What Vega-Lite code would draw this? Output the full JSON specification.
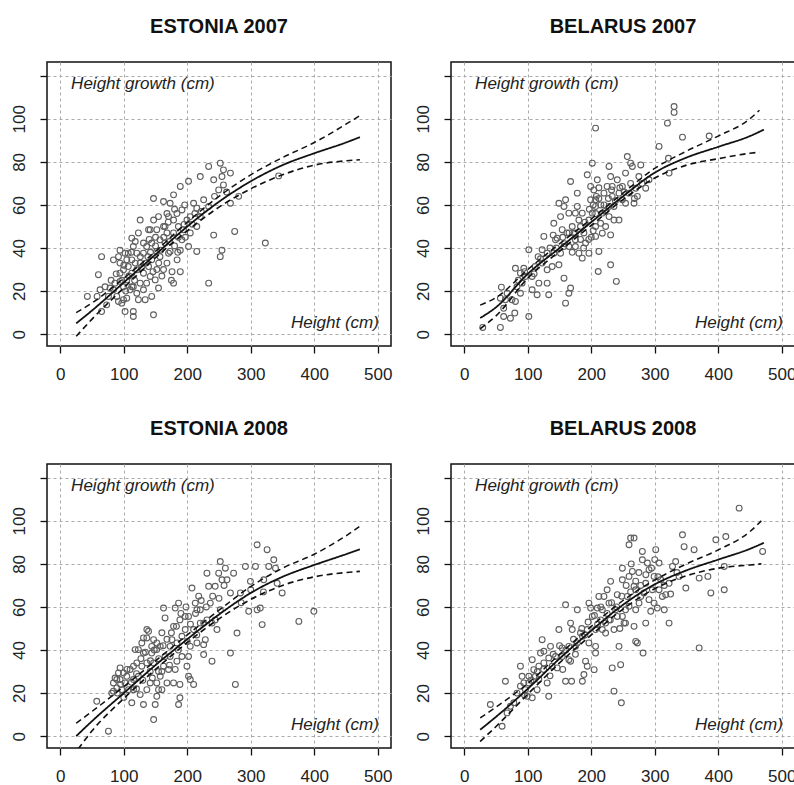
{
 "$schema": "https://vega.github.io/schema/vega-lite/v6.json",
 "background": "white",
 "padding": {"left": 9, "top": 16, "right": 0, "bottom": 0},
 "config": {
  "font": "Liberation Sans",
  "view": {"stroke": "#111111", "strokeWidth": 1.5}
 },
 "data": {"values": [
{"p":"ESTONIA 2007","k":"obs","h":42.6,"g":17.5},{"p":"ESTONIA 2007","k":"obs","h":60,"g":27.6},{"p":"ESTONIA 2007","k":"obs","h":65,"g":36},{"p":"ESTONIA 2007","k":"obs","h":62.6,"g":20.6},{"p":"ESTONIA 2007","k":"obs","h":65,"g":10.5},{"p":"ESTONIA 2007","k":"obs","h":73,"g":13.6},{"p":"ESTONIA 2007","k":"obs","h":58,"g":17.5},{"p":"ESTONIA 2007","k":"obs","h":83.7,"g":20.6},{"p":"ESTONIA 2007","k":"obs","h":83.7,"g":34.5},{"p":"ESTONIA 2007","k":"obs","h":91.6,"g":36},{"p":"ESTONIA 2007","k":"obs","h":94,"g":24.5},{"p":"ESTONIA 2007","k":"obs","h":99.5,"g":16},{"p":"ESTONIA 2007","k":"obs","h":102,"g":10.5},{"p":"ESTONIA 2007","k":"obs","h":115,"g":10.5},{"p":"ESTONIA 2007","k":"obs","h":115,"g":8.2},{"p":"ESTONIA 2007","k":"obs","h":112.6,"g":44.6},{"p":"ESTONIA 2007","k":"obs","h":125.8,"g":53},{"p":"ESTONIA 2007","k":"obs","h":146.8,"g":63},{"p":"ESTONIA 2007","k":"obs","h":146.8,"g":9},{"p":"ESTONIA 2007","k":"obs","h":144,"g":17.5},{"p":"ESTONIA 2007","k":"obs","h":154.7,"g":21.4},{"p":"ESTONIA 2007","k":"obs","h":162.6,"g":61.6},{"p":"ESTONIA 2007","k":"obs","h":178.4,"g":64.7},{"p":"ESTONIA 2007","k":"obs","h":170.5,"g":54.6},{"p":"ESTONIA 2007","k":"obs","h":189,"g":68.6},{"p":"ESTONIA 2007","k":"obs","h":202,"g":71},{"p":"ESTONIA 2007","k":"obs","h":220.5,"g":73.2},{"p":"ESTONIA 2007","k":"obs","h":233.7,"g":77.9},{"p":"ESTONIA 2007","k":"obs","h":241.6,"g":71.7},{"p":"ESTONIA 2007","k":"obs","h":252,"g":79.4},{"p":"ESTONIA 2007","k":"obs","h":257,"g":76.3},{"p":"ESTONIA 2007","k":"obs","h":268,"g":74.8},{"p":"ESTONIA 2007","k":"obs","h":257,"g":69.3},{"p":"ESTONIA 2007","k":"obs","h":249.5,"g":67},{"p":"ESTONIA 2007","k":"obs","h":254.7,"g":73.2},{"p":"ESTONIA 2007","k":"obs","h":225.8,"g":62.4},{"p":"ESTONIA 2007","k":"obs","h":210,"g":60.8},{"p":"ESTONIA 2007","k":"obs","h":215,"g":58.5},{"p":"ESTONIA 2007","k":"obs","h":204.7,"g":54.6},{"p":"ESTONIA 2007","k":"obs","h":268,"g":60.8},{"p":"ESTONIA 2007","k":"obs","h":281,"g":64},{"p":"ESTONIA 2007","k":"obs","h":274.7,"g":47.7},{"p":"ESTONIA 2007","k":"obs","h":241.6,"g":46},{"p":"ESTONIA 2007","k":"obs","h":254.7,"g":39},{"p":"ESTONIA 2007","k":"obs","h":252,"g":36},{"p":"ESTONIA 2007","k":"obs","h":215,"g":38.4},{"p":"ESTONIA 2007","k":"obs","h":233.7,"g":23.7},{"p":"ESTONIA 2007","k":"obs","h":323,"g":42.3},{"p":"ESTONIA 2007","k":"obs","h":344,"g":73.5},{"p":"ESTONIA 2007","k":"obs","h":173,"g":38.4},{"p":"ESTONIA 2007","k":"obs","h":175,"g":25},{"p":"ESTONIA 2007","k":"obs","h":178.4,"g":23.7},{"p":"ESTONIA 2007","k":"obs","h":189,"g":29},{"p":"ESTONIA 2007","k":"obs","h":184,"g":34.5},{"p":"ESTONIA 2007","k":"obs","h":189,"g":39},{"p":"ESTONIA 2007","k":"obs","h":191.6,"g":43.8},{"p":"ESTONIA 2007","k":"obs","h":194,"g":48.5},{"p":"ESTONIA 2007","k":"obs","h":191.6,"g":57.7},{"p":"ESTONIA 2007","k":"obs","h":183.7,"g":56},{"p":"ESTONIA 2007","k":"obs","h":173,"g":60.8},{"p":"ESTONIA 2007","k":"obs","h":199.5,"g":53},{"p":"ESTONIA 2007","k":"obs","h":204.7,"g":47},{"p":"ESTONIA 2007","k":"obs","h":202,"g":40.7},{"p":"ESTONIA 2007","k":"obs","h":157,"g":36},{"p":"ESTONIA 2007","k":"obs","h":152,"g":30},{"p":"ESTONIA 2007","k":"obs","h":162.6,"g":30},{"p":"ESTONIA 2007","k":"obs","h":168,"g":33},{"p":"ESTONIA 2007","k":"obs","h":165,"g":42.3},{"p":"ESTONIA 2007","k":"obs","h":168,"g":47},{"p":"ESTONIA 2007","k":"obs","h":157,"g":43.8},{"p":"ESTONIA 2007","k":"obs","h":152,"g":48.5},{"p":"ESTONIA 2007","k":"obs","h":147,"g":53},{"p":"ESTONIA 2007","k":"obs","h":141.6,"g":48.5},{"p":"ESTONIA 2007","k":"obs","h":136,"g":40.7},{"p":"ESTONIA 2007","k":"obs","h":131,"g":37.6},{"p":"ESTONIA 2007","k":"obs","h":125.8,"g":33},{"p":"ESTONIA 2007","k":"obs","h":120.5,"g":37.6},{"p":"ESTONIA 2007","k":"obs","h":115,"g":40.7},{"p":"ESTONIA 2007","k":"obs","h":107,"g":37.6},{"p":"ESTONIA 2007","k":"obs","h":107,"g":31.4},{"p":"ESTONIA 2007","k":"obs","h":112.6,"g":28.3},{"p":"ESTONIA 2007","k":"obs","h":120.5,"g":29.9},{"p":"ESTONIA 2007","k":"obs","h":131,"g":28.3},{"p":"ESTONIA 2007","k":"obs","h":136,"g":23.7},{"p":"ESTONIA 2007","k":"obs","h":131,"g":20.6},{"p":"ESTONIA 2007","k":"obs","h":133.7,"g":16},{"p":"ESTONIA 2007","k":"obs","h":120.5,"g":19},{"p":"ESTONIA 2007","k":"obs","h":115,"g":22},{"p":"ESTONIA 2007","k":"obs","h":104.7,"g":25.2},{"p":"ESTONIA 2007","k":"obs","h":99.5,"g":29.9},{"p":"ESTONIA 2007","k":"obs","h":94,"g":33},{"p":"ESTONIA 2007","k":"obs","h":94,"g":28.3},{"p":"ESTONIA 2007","k":"obs","h":89,"g":17.5},{"p":"ESTONIA 2007","k":"obs","h":96.8,"g":14.4},{"p":"ESTONIA 2007","k":"obs","h":91.6,"g":15.2},{"p":"ESTONIA 2007","k":"obs","h":104.7,"g":16.7},{"p":"ESTONIA 2007","k":"obs","h":110,"g":20.6},{"p":"ESTONIA 2007","k":"obs","h":139,"g":31.4},{"p":"ESTONIA 2007","k":"obs","h":144,"g":34.5},{"p":"ESTONIA 2007","k":"obs","h":141.6,"g":26.8},{"p":"ESTONIA 2007","k":"obs","h":149.5,"g":25.2},{"p":"ESTONIA 2007","k":"obs","h":123,"g":47},{"p":"ESTONIA 2007","k":"obs","h":131,"g":42.3},{"p":"ESTONIA 2007","k":"obs","h":139,"g":48.5},{"p":"ESTONIA 2007","k":"obs","h":220.5,"g":54.6},{"p":"ESTONIA 2007","k":"obs","h":233.7,"g":59.3},{"p":"ESTONIA 2007","k":"obs","h":215,"g":50},{"p":"ESTONIA 2007","k":"obs","h":178.4,"g":47},{"p":"ESTONIA 2007","k":"obs","h":178.4,"g":53},{"p":"ESTONIA 2007","k":"obs","h":168,"g":56},{"p":"ESTONIA 2007","k":"obs","h":186,"g":50},{"p":"ESTONIA 2007","k":"obs","h":170.5,"g":37.6},{"p":"ESTONIA 2007","k":"obs","h":112.6,"g":34.5},{"p":"ESTONIA 2007","k":"obs","h":102,"g":37.6},{"p":"ESTONIA 2007","k":"obs","h":125.8,"g":23.7},{"p":"ESTONIA 2007","k":"obs","h":123,"g":16},{"p":"ESTONIA 2007","k":"obs","h":152,"g":38.4},{"p":"ESTONIA 2007","k":"obs","h":144,"g":42.3},{"p":"ESTONIA 2007","k":"obs","h":162.6,"g":50},{"p":"ESTONIA 2007","k":"obs","h":154.7,"g":54.6},{"p":"ESTONIA 2007","k":"obs","h":104.7,"g":34.5},{"p":"ESTONIA 2007","k":"obs","h":99.5,"g":22},{"p":"ESTONIA 2007","k":"obs","h":86,"g":23.7},{"p":"ESTONIA 2007","k":"obs","h":75.8,"g":17.5},{"p":"ESTONIA 2007","k":"obs","h":78.4,"g":21.4},{"p":"ESTONIA 2007","k":"obs","h":70.5,"g":22},{"p":"ESTONIA 2007","k":"obs","h":112.6,"g":22},{"p":"ESTONIA 2007","k":"obs","h":94,"g":39},
{"p":"ESTONIA 2007","k":"obs","h":100,"g":32},{"p":"ESTONIA 2007","k":"obs","h":108,"g":27},{"p":"ESTONIA 2007","k":"obs","h":118,"g":33},{"p":"ESTONIA 2007","k":"obs","h":126,"g":36},{"p":"ESTONIA 2007","k":"obs","h":135,"g":33},{"p":"ESTONIA 2007","k":"obs","h":142,"g":38},{"p":"ESTONIA 2007","k":"obs","h":150,"g":41},{"p":"ESTONIA 2007","k":"obs","h":158,"g":39},{"p":"ESTONIA 2007","k":"obs","h":163,"g":45},{"p":"ESTONIA 2007","k":"obs","h":172,"g":43},{"p":"ESTONIA 2007","k":"obs","h":180,"g":41},{"p":"ESTONIA 2007","k":"obs","h":186,"g":45},{"p":"ESTONIA 2007","k":"obs","h":195,"g":51},{"p":"ESTONIA 2007","k":"obs","h":97,"g":25},{"p":"ESTONIA 2007","k":"obs","h":103,"g":20},{"p":"ESTONIA 2007","k":"obs","h":117,"g":25},{"p":"ESTONIA 2007","k":"obs","h":128,"g":31},{"p":"ESTONIA 2007","k":"obs","h":138,"g":36},{"p":"ESTONIA 2007","k":"obs","h":146,"g":29},{"p":"ESTONIA 2007","k":"obs","h":155,"g":33},{"p":"ESTONIA 2007","k":"obs","h":160,"g":27},{"p":"ESTONIA 2007","k":"obs","h":176,"g":29},{"p":"ESTONIA 2007","k":"obs","h":185,"g":38},{"p":"ESTONIA 2007","k":"obs","h":197,"g":45},{"p":"ESTONIA 2007","k":"obs","h":208,"g":51},{"p":"ESTONIA 2007","k":"obs","h":212,"g":56},{"p":"ESTONIA 2007","k":"obs","h":222,"g":57},{"p":"ESTONIA 2007","k":"obs","h":243,"g":64},{"p":"ESTONIA 2007","k":"obs","h":262,"g":66},{"p":"ESTONIA 2007","k":"obs","h":196,"g":60},{"p":"ESTONIA 2007","k":"obs","h":180,"g":58},{"p":"ESTONIA 2007","k":"obs","h":165,"g":50},{"p":"ESTONIA 2007","k":"obs","h":140,"g":44},{"p":"ESTONIA 2007","k":"obs","h":112,"g":38},{"p":"ESTONIA 2007","k":"obs","h":88,"g":28},{"p":"ESTONIA 2007","k":"obs","h":80,"g":25},{"p":"ESTONIA 2007","k":"obs","h":118,"g":43},{"p":"ESTONIA 2007","k":"obs","h":150,"g":45},{"p":"ESTONIA 2007","k":"obs","h":170,"g":52},
{"p":"BELARUS 2007","k":"obs","h":29,"g":3.1},{"p":"BELARUS 2007","k":"obs","h":56.8,"g":3.1},{"p":"BELARUS 2007","k":"obs","h":58.4,"g":21.8},{"p":"BELARUS 2007","k":"obs","h":64.7,"g":16},{"p":"BELARUS 2007","k":"obs","h":62,"g":12},{"p":"BELARUS 2007","k":"obs","h":56.8,"g":16.7},{"p":"BELARUS 2007","k":"obs","h":72.6,"g":7.4},{"p":"BELARUS 2007","k":"obs","h":62,"g":8.2},{"p":"BELARUS 2007","k":"obs","h":79.5,"g":9.8},{"p":"BELARUS 2007","k":"obs","h":80.5,"g":15.2},{"p":"BELARUS 2007","k":"obs","h":80.5,"g":30.6},{"p":"BELARUS 2007","k":"obs","h":88.4,"g":19},{"p":"BELARUS 2007","k":"obs","h":93.7,"g":30.6},{"p":"BELARUS 2007","k":"obs","h":101.6,"g":8.2},{"p":"BELARUS 2007","k":"obs","h":101.6,"g":39.2},{"p":"BELARUS 2007","k":"obs","h":106.8,"g":20.6},{"p":"BELARUS 2007","k":"obs","h":117.4,"g":23.7},{"p":"BELARUS 2007","k":"obs","h":114.7,"g":18.3},{"p":"BELARUS 2007","k":"obs","h":116.3,"g":36},{"p":"BELARUS 2007","k":"obs","h":122.6,"g":39.2},{"p":"BELARUS 2007","k":"obs","h":125.3,"g":45.4},{"p":"BELARUS 2007","k":"obs","h":130.5,"g":23.7},{"p":"BELARUS 2007","k":"obs","h":133,"g":18.3},{"p":"BELARUS 2007","k":"obs","h":130.5,"g":29.9},{"p":"BELARUS 2007","k":"obs","h":141,"g":51.5},{"p":"BELARUS 2007","k":"obs","h":146.3,"g":44.6},{"p":"BELARUS 2007","k":"obs","h":149,"g":32.2},{"p":"BELARUS 2007","k":"obs","h":157,"g":26},{"p":"BELARUS 2007","k":"obs","h":159.5,"g":14.4},{"p":"BELARUS 2007","k":"obs","h":164.7,"g":19},{"p":"BELARUS 2007","k":"obs","h":167.4,"g":21.4},{"p":"BELARUS 2007","k":"obs","h":149,"g":60.8},{"p":"BELARUS 2007","k":"obs","h":159.5,"g":62.4},{"p":"BELARUS 2007","k":"obs","h":167.4,"g":70.9},{"p":"BELARUS 2007","k":"obs","h":164.7,"g":56.2},{"p":"BELARUS 2007","k":"obs","h":175,"g":56.2},{"p":"BELARUS 2007","k":"obs","h":178,"g":65.5},{"p":"BELARUS 2007","k":"obs","h":178,"g":59.3},{"p":"BELARUS 2007","k":"obs","h":172.6,"g":46.9},{"p":"BELARUS 2007","k":"obs","h":175,"g":43.8},{"p":"BELARUS 2007","k":"obs","h":180.5,"g":37.6},{"p":"BELARUS 2007","k":"obs","h":185.8,"g":35.3},{"p":"BELARUS 2007","k":"obs","h":191,"g":42.3},{"p":"BELARUS 2007","k":"obs","h":193.7,"g":74},{"p":"BELARUS 2007","k":"obs","h":199,"g":68.6},{"p":"BELARUS 2007","k":"obs","h":201.6,"g":79.4},{"p":"BELARUS 2007","k":"obs","h":206.8,"g":95.7},{"p":"BELARUS 2007","k":"obs","h":209.5,"g":71.7},{"p":"BELARUS 2007","k":"obs","h":206.8,"g":62.4},{"p":"BELARUS 2007","k":"obs","h":206.8,"g":59.3},{"p":"BELARUS 2007","k":"obs","h":201.6,"g":56.2},{"p":"BELARUS 2007","k":"obs","h":206.8,"g":45.4},{"p":"BELARUS 2007","k":"obs","h":212,"g":38.4},{"p":"BELARUS 2007","k":"obs","h":211,"g":29.1},{"p":"BELARUS 2007","k":"obs","h":217.4,"g":56.2},{"p":"BELARUS 2007","k":"obs","h":220,"g":65.5},{"p":"BELARUS 2007","k":"obs","h":225,"g":68.6},{"p":"BELARUS 2007","k":"obs","h":228,"g":77.9},{"p":"BELARUS 2007","k":"obs","h":230.5,"g":73.2},{"p":"BELARUS 2007","k":"obs","h":233,"g":64},{"p":"BELARUS 2007","k":"obs","h":235.8,"g":59.3},{"p":"BELARUS 2007","k":"obs","h":230.5,"g":46.1},{"p":"BELARUS 2007","k":"obs","h":230.5,"g":32.2},{"p":"BELARUS 2007","k":"obs","h":239.5,"g":24.5},{"p":"BELARUS 2007","k":"obs","h":241,"g":71.7},{"p":"BELARUS 2007","k":"obs","h":249,"g":68.6},{"p":"BELARUS 2007","k":"obs","h":254,"g":74.8},{"p":"BELARUS 2007","k":"obs","h":256.8,"g":82.5},{"p":"BELARUS 2007","k":"obs","h":262,"g":79.4},{"p":"BELARUS 2007","k":"obs","h":259.5,"g":65.5},{"p":"BELARUS 2007","k":"obs","h":267.4,"g":60.8},{"p":"BELARUS 2007","k":"obs","h":270,"g":67.8},{"p":"BELARUS 2007","k":"obs","h":264.7,"g":77.9},{"p":"BELARUS 2007","k":"obs","h":278,"g":78.6},{"p":"BELARUS 2007","k":"obs","h":285.8,"g":67.8},{"p":"BELARUS 2007","k":"obs","h":306.8,"g":87.2},{"p":"BELARUS 2007","k":"obs","h":320,"g":98},{"p":"BELARUS 2007","k":"obs","h":330.5,"g":105.7},{"p":"BELARUS 2007","k":"obs","h":330.5,"g":103},{"p":"BELARUS 2007","k":"obs","h":343.7,"g":91.5},{"p":"BELARUS 2007","k":"obs","h":321.6,"g":81.7},{"p":"BELARUS 2007","k":"obs","h":322.6,"g":74.8},{"p":"BELARUS 2007","k":"obs","h":385.8,"g":92},{"p":"BELARUS 2007","k":"obs","h":249,"g":62.4},{"p":"BELARUS 2007","k":"obs","h":243.7,"g":53},{"p":"BELARUS 2007","k":"obs","h":222.6,"g":50},{"p":"BELARUS 2007","k":"obs","h":214.7,"g":51.5},{"p":"BELARUS 2007","k":"obs","h":196.3,"g":53},{"p":"BELARUS 2007","k":"obs","h":188.4,"g":47},{"p":"BELARUS 2007","k":"obs","h":185.8,"g":56.2},{"p":"BELARUS 2007","k":"obs","h":220,"g":60},{"p":"BELARUS 2007","k":"obs","h":228,"g":59.3},{"p":"BELARUS 2007","k":"obs","h":199,"g":62.4},{"p":"BELARUS 2007","k":"obs","h":170,"g":50},{"p":"BELARUS 2007","k":"obs","h":161.6,"g":47},{"p":"BELARUS 2007","k":"obs","h":156.8,"g":40.7},{"p":"BELARUS 2007","k":"obs","h":164.7,"g":40.7},{"p":"BELARUS 2007","k":"obs","h":151.6,"g":37.6},{"p":"BELARUS 2007","k":"obs","h":141,"g":37.6},{"p":"BELARUS 2007","k":"obs","h":143.7,"g":43.8},{"p":"BELARUS 2007","k":"obs","h":138.4,"g":31.4},{"p":"BELARUS 2007","k":"obs","h":122.6,"g":33},{"p":"BELARUS 2007","k":"obs","h":111.6,"g":31.4},{"p":"BELARUS 2007","k":"obs","h":106.8,"g":26.8},{"p":"BELARUS 2007","k":"obs","h":96.3,"g":26.8},{"p":"BELARUS 2007","k":"obs","h":91,"g":23.7},{"p":"BELARUS 2007","k":"obs","h":83,"g":22},{"p":"BELARUS 2007","k":"obs","h":75,"g":16},{"p":"BELARUS 2007","k":"obs","h":67.4,"g":19},{"p":"BELARUS 2007","k":"obs","h":88.4,"g":28.3},{"p":"BELARUS 2007","k":"obs","h":196.3,"g":37.6},{"p":"BELARUS 2007","k":"obs","h":206.8,"g":50},{"p":"BELARUS 2007","k":"obs","h":217.4,"g":46.9},{"p":"BELARUS 2007","k":"obs","h":228,"g":54.6},{"p":"BELARUS 2007","k":"obs","h":235.8,"g":53},{"p":"BELARUS 2007","k":"obs","h":233,"g":68.6},{"p":"BELARUS 2007","k":"obs","h":243.7,"g":65.5},{"p":"BELARUS 2007","k":"obs","h":212,"g":63},{"p":"BELARUS 2007","k":"obs","h":204,"g":67},{"p":"BELARUS 2007","k":"obs","h":183,"g":50},{"p":"BELARUS 2007","k":"obs","h":180.5,"g":53},{"p":"BELARUS 2007","k":"obs","h":175,"g":40.7},{"p":"BELARUS 2007","k":"obs","h":272.6,"g":64},{"p":"BELARUS 2007","k":"obs","h":291,"g":71.7},{"p":"BELARUS 2007","k":"obs","h":275,"g":73.2},{"p":"BELARUS 2007","k":"obs","h":254,"g":60.8},{"p":"BELARUS 2007","k":"obs","h":157,"g":59.3},{"p":"BELARUS 2007","k":"obs","h":151.6,"g":54.6},{"p":"BELARUS 2007","k":"obs","h":130.5,"g":37.6},{"p":"BELARUS 2007","k":"obs","h":154.2,"g":48.5},
{"p":"BELARUS 2007","k":"obs","h":85,"g":25},{"p":"BELARUS 2007","k":"obs","h":95,"g":29},{"p":"BELARUS 2007","k":"obs","h":110,"g":28},{"p":"BELARUS 2007","k":"obs","h":120,"g":35},{"p":"BELARUS 2007","k":"obs","h":135,"g":40},{"p":"BELARUS 2007","k":"obs","h":145,"g":40},{"p":"BELARUS 2007","k":"obs","h":155,"g":45},{"p":"BELARUS 2007","k":"obs","h":165,"g":47},{"p":"BELARUS 2007","k":"obs","h":175,"g":47},{"p":"BELARUS 2007","k":"obs","h":183,"g":44},{"p":"BELARUS 2007","k":"obs","h":190,"g":52},{"p":"BELARUS 2007","k":"obs","h":197,"g":58},{"p":"BELARUS 2007","k":"obs","h":203,"g":60},{"p":"BELARUS 2007","k":"obs","h":208,"g":64},{"p":"BELARUS 2007","k":"obs","h":215,"g":60},{"p":"BELARUS 2007","k":"obs","h":222,"g":57},{"p":"BELARUS 2007","k":"obs","h":227,"g":63},{"p":"BELARUS 2007","k":"obs","h":238,"g":62},{"p":"BELARUS 2007","k":"obs","h":245,"g":68},{"p":"BELARUS 2007","k":"obs","h":252,"g":66},{"p":"BELARUS 2007","k":"obs","h":262,"g":70},{"p":"BELARUS 2007","k":"obs","h":207,"g":56},{"p":"BELARUS 2007","k":"obs","h":200,"g":45},{"p":"BELARUS 2007","k":"obs","h":188,"g":40},{"p":"BELARUS 2007","k":"obs","h":170,"g":38},{"p":"BELARUS 2007","k":"obs","h":158,"g":42},{"p":"BELARUS 2007","k":"obs","h":140,"g":46},{"p":"BELARUS 2007","k":"obs","h":212,"g":68},{"p":"BELARUS 2007","k":"obs","h":232,"g":67},{"p":"BELARUS 2007","k":"obs","h":268,"g":63},{"p":"BELARUS 2007","k":"obs","h":280,"g":70},{"p":"BELARUS 2007","k":"obs","h":203,"g":48},{"p":"BELARUS 2007","k":"obs","h":196,"g":44},
{"p":"ESTONIA 2008","k":"obs","h":57.4,"g":16.2},{"p":"ESTONIA 2008","k":"obs","h":75.8,"g":2.3},{"p":"ESTONIA 2008","k":"obs","h":81,"g":20},{"p":"ESTONIA 2008","k":"obs","h":83.7,"g":24.7},{"p":"ESTONIA 2008","k":"obs","h":86.3,"g":27},{"p":"ESTONIA 2008","k":"obs","h":91.6,"g":29.4},{"p":"ESTONIA 2008","k":"obs","h":94.2,"g":31.7},{"p":"ESTONIA 2008","k":"obs","h":89,"g":22.4},{"p":"ESTONIA 2008","k":"obs","h":96.8,"g":21.6},{"p":"ESTONIA 2008","k":"obs","h":102,"g":24.7},{"p":"ESTONIA 2008","k":"obs","h":99.5,"g":29.4},{"p":"ESTONIA 2008","k":"obs","h":104.7,"g":27.8},{"p":"ESTONIA 2008","k":"obs","h":107.4,"g":21.6},{"p":"ESTONIA 2008","k":"obs","h":112.6,"g":15.5},{"p":"ESTONIA 2008","k":"obs","h":115.3,"g":21.6},{"p":"ESTONIA 2008","k":"obs","h":115.3,"g":26.3},{"p":"ESTONIA 2008","k":"obs","h":120.5,"g":34},{"p":"ESTONIA 2008","k":"obs","h":123,"g":40.2},{"p":"ESTONIA 2008","k":"obs","h":128.4,"g":43.3},{"p":"ESTONIA 2008","k":"obs","h":131,"g":38.6},{"p":"ESTONIA 2008","k":"obs","h":131,"g":14.7},{"p":"ESTONIA 2008","k":"obs","h":125.8,"g":19.3},{"p":"ESTONIA 2008","k":"obs","h":136.3,"g":21.6},{"p":"ESTONIA 2008","k":"obs","h":139,"g":48.7},{"p":"ESTONIA 2008","k":"obs","h":136.3,"g":45.6},{"p":"ESTONIA 2008","k":"obs","h":144,"g":38.6},{"p":"ESTONIA 2008","k":"obs","h":147,"g":34},{"p":"ESTONIA 2008","k":"obs","h":147,"g":7.7},{"p":"ESTONIA 2008","k":"obs","h":149.5,"g":14.7},{"p":"ESTONIA 2008","k":"obs","h":152,"g":18.5},{"p":"ESTONIA 2008","k":"obs","h":154.7,"g":21.6},{"p":"ESTONIA 2008","k":"obs","h":157.4,"g":27.8},{"p":"ESTONIA 2008","k":"obs","h":160,"g":48},{"p":"ESTONIA 2008","k":"obs","h":162.6,"g":59.5},{"p":"ESTONIA 2008","k":"obs","h":165,"g":54.9},{"p":"ESTONIA 2008","k":"obs","h":168,"g":24.7},{"p":"ESTONIA 2008","k":"obs","h":170.5,"g":31},{"p":"ESTONIA 2008","k":"obs","h":173,"g":41.7},{"p":"ESTONIA 2008","k":"obs","h":175.8,"g":44.8},{"p":"ESTONIA 2008","k":"obs","h":178.4,"g":51},{"p":"ESTONIA 2008","k":"obs","h":181,"g":59.5},{"p":"ESTONIA 2008","k":"obs","h":186.3,"g":61.8},{"p":"ESTONIA 2008","k":"obs","h":188.4,"g":54},{"p":"ESTONIA 2008","k":"obs","h":186.3,"g":14.7},{"p":"ESTONIA 2008","k":"obs","h":188.4,"g":17.8},{"p":"ESTONIA 2008","k":"obs","h":188.4,"g":24},{"p":"ESTONIA 2008","k":"obs","h":183.7,"g":34.8},{"p":"ESTONIA 2008","k":"obs","h":196.8,"g":55.6},{"p":"ESTONIA 2008","k":"obs","h":199.5,"g":32.5},{"p":"ESTONIA 2008","k":"obs","h":202,"g":27.8},{"p":"ESTONIA 2008","k":"obs","h":204.7,"g":26.3},{"p":"ESTONIA 2008","k":"obs","h":210,"g":24},{"p":"ESTONIA 2008","k":"obs","h":202,"g":37},{"p":"ESTONIA 2008","k":"obs","h":204.7,"g":41.7},{"p":"ESTONIA 2008","k":"obs","h":210,"g":49.5},{"p":"ESTONIA 2008","k":"obs","h":207.4,"g":68.8},{"p":"ESTONIA 2008","k":"obs","h":212.6,"g":61.8},{"p":"ESTONIA 2008","k":"obs","h":218,"g":65},{"p":"ESTONIA 2008","k":"obs","h":220.5,"g":58.7},{"p":"ESTONIA 2008","k":"obs","h":225.8,"g":42.5},{"p":"ESTONIA 2008","k":"obs","h":225.8,"g":37.9},{"p":"ESTONIA 2008","k":"obs","h":228.4,"g":44.8},{"p":"ESTONIA 2008","k":"obs","h":233.7,"g":69.6},{"p":"ESTONIA 2008","k":"obs","h":236.3,"g":61.8},{"p":"ESTONIA 2008","k":"obs","h":239,"g":52.5},{"p":"ESTONIA 2008","k":"obs","h":239,"g":34.8},{"p":"ESTONIA 2008","k":"obs","h":244,"g":69.6},{"p":"ESTONIA 2008","k":"obs","h":246.8,"g":49.5},{"p":"ESTONIA 2008","k":"obs","h":252,"g":81.1},{"p":"ESTONIA 2008","k":"obs","h":249.5,"g":75.7},{"p":"ESTONIA 2008","k":"obs","h":252,"g":58.7},{"p":"ESTONIA 2008","k":"obs","h":254.7,"g":72.6},{"p":"ESTONIA 2008","k":"obs","h":260,"g":78},{"p":"ESTONIA 2008","k":"obs","h":262.6,"g":72.6},{"p":"ESTONIA 2008","k":"obs","h":268,"g":66.5},{"p":"ESTONIA 2008","k":"obs","h":268,"g":38.6},{"p":"ESTONIA 2008","k":"obs","h":273,"g":75.7},{"p":"ESTONIA 2008","k":"obs","h":275.8,"g":24},{"p":"ESTONIA 2008","k":"obs","h":278.4,"g":47.9},{"p":"ESTONIA 2008","k":"obs","h":283.7,"g":66.5},{"p":"ESTONIA 2008","k":"obs","h":291.6,"g":78.8},{"p":"ESTONIA 2008","k":"obs","h":296.8,"g":58},{"p":"ESTONIA 2008","k":"obs","h":299.5,"g":71.9},{"p":"ESTONIA 2008","k":"obs","h":307.4,"g":78.8},{"p":"ESTONIA 2008","k":"obs","h":310,"g":88.9},{"p":"ESTONIA 2008","k":"obs","h":310,"g":58.7},{"p":"ESTONIA 2008","k":"obs","h":315,"g":59.5},{"p":"ESTONIA 2008","k":"obs","h":318,"g":51.8},{"p":"ESTONIA 2008","k":"obs","h":320.5,"g":72.6},{"p":"ESTONIA 2008","k":"obs","h":325.8,"g":86.6},{"p":"ESTONIA 2008","k":"obs","h":328.4,"g":78.8},{"p":"ESTONIA 2008","k":"obs","h":336.3,"g":81.9},{"p":"ESTONIA 2008","k":"obs","h":339,"g":78},{"p":"ESTONIA 2008","k":"obs","h":341.6,"g":71},{"p":"ESTONIA 2008","k":"obs","h":349.5,"g":66.5},{"p":"ESTONIA 2008","k":"obs","h":375.8,"g":53.3},{"p":"ESTONIA 2008","k":"obs","h":399.5,"g":58},{"p":"ESTONIA 2008","k":"obs","h":231,"g":75.7},{"p":"ESTONIA 2008","k":"obs","h":215.3,"g":58.7},{"p":"ESTONIA 2008","k":"obs","h":202,"g":55.6},{"p":"ESTONIA 2008","k":"obs","h":196.8,"g":49.5},{"p":"ESTONIA 2008","k":"obs","h":191.6,"g":46.4},{"p":"ESTONIA 2008","k":"obs","h":183.7,"g":43.3},{"p":"ESTONIA 2008","k":"obs","h":173,"g":37},{"p":"ESTONIA 2008","k":"obs","h":165,"g":37},{"p":"ESTONIA 2008","k":"obs","h":157.4,"g":41.7},{"p":"ESTONIA 2008","k":"obs","h":152,"g":43.3},{"p":"ESTONIA 2008","k":"obs","h":147,"g":44.8},{"p":"ESTONIA 2008","k":"obs","h":144,"g":41.7},{"p":"ESTONIA 2008","k":"obs","h":152,"g":40.2},{"p":"ESTONIA 2008","k":"obs","h":162.6,"g":32.5},{"p":"ESTONIA 2008","k":"obs","h":154.7,"g":30},{"p":"ESTONIA 2008","k":"obs","h":141.6,"g":30},{"p":"ESTONIA 2008","k":"obs","h":136.3,"g":34},{"p":"ESTONIA 2008","k":"obs","h":128.4,"g":32.5},{"p":"ESTONIA 2008","k":"obs","h":123,"g":27.8},{"p":"ESTONIA 2008","k":"obs","h":115.3,"g":32.5},{"p":"ESTONIA 2008","k":"obs","h":110,"g":31},{"p":"ESTONIA 2008","k":"obs","h":117.9,"g":40.2},{"p":"ESTONIA 2008","k":"obs","h":141.6,"g":24.7},{"p":"ESTONIA 2008","k":"obs","h":152,"g":24.7},{"p":"ESTONIA 2008","k":"obs","h":160,"g":21.6},{"p":"ESTONIA 2008","k":"obs","h":178.4,"g":24.7},{"p":"ESTONIA 2008","k":"obs","h":181,"g":31},{"p":"ESTONIA 2008","k":"obs","h":191.6,"g":37},{"p":"ESTONIA 2008","k":"obs","h":215.3,"g":43.3},{"p":"ESTONIA 2008","k":"obs","h":225.8,"g":52.5},{"p":"ESTONIA 2008","k":"obs","h":231,"g":54},{"p":"ESTONIA 2008","k":"obs","h":244,"g":54},{"p":"ESTONIA 2008","k":"obs","h":220.5,"g":52.5},{"p":"ESTONIA 2008","k":"obs","h":136.3,"g":49.5},{"p":"ESTONIA 2008","k":"obs","h":131,"g":45.6},{"p":"ESTONIA 2008","k":"obs","h":94.2,"g":26.3},{"p":"ESTONIA 2008","k":"obs","h":83.7,"g":20.9},{"p":"ESTONIA 2008","k":"obs","h":89,"g":26.3},
{"p":"ESTONIA 2008","k":"obs","h":95,"g":24},{"p":"ESTONIA 2008","k":"obs","h":105,"g":31},{"p":"ESTONIA 2008","k":"obs","h":112,"g":25},{"p":"ESTONIA 2008","k":"obs","h":120,"g":29},{"p":"ESTONIA 2008","k":"obs","h":127,"g":36},{"p":"ESTONIA 2008","k":"obs","h":134,"g":39},{"p":"ESTONIA 2008","k":"obs","h":142,"g":35},{"p":"ESTONIA 2008","k":"obs","h":148,"g":40},{"p":"ESTONIA 2008","k":"obs","h":155,"g":36},{"p":"ESTONIA 2008","k":"obs","h":162,"g":42},{"p":"ESTONIA 2008","k":"obs","h":168,"g":45},{"p":"ESTONIA 2008","k":"obs","h":175,"g":48},{"p":"ESTONIA 2008","k":"obs","h":183,"g":51},{"p":"ESTONIA 2008","k":"obs","h":190,"g":57},{"p":"ESTONIA 2008","k":"obs","h":198,"g":60},{"p":"ESTONIA 2008","k":"obs","h":205,"g":52},{"p":"ESTONIA 2008","k":"obs","h":213,"g":57},{"p":"ESTONIA 2008","k":"obs","h":222,"g":63},{"p":"ESTONIA 2008","k":"obs","h":230,"g":60},{"p":"ESTONIA 2008","k":"obs","h":240,"g":65},{"p":"ESTONIA 2008","k":"obs","h":250,"g":64},{"p":"ESTONIA 2008","k":"obs","h":258,"g":70},{"p":"ESTONIA 2008","k":"obs","h":120,"g":22},{"p":"ESTONIA 2008","k":"obs","h":130,"g":26},{"p":"ESTONIA 2008","k":"obs","h":145,"g":27},{"p":"ESTONIA 2008","k":"obs","h":160,"g":30},{"p":"ESTONIA 2008","k":"obs","h":172,"g":33},{"p":"ESTONIA 2008","k":"obs","h":186,"g":40},{"p":"ESTONIA 2008","k":"obs","h":200,"g":44},{"p":"ESTONIA 2008","k":"obs","h":215,"g":47},{"p":"ESTONIA 2008","k":"obs","h":100,"g":18},{"p":"ESTONIA 2008","k":"obs","h":90,"g":20},{"p":"ESTONIA 2008","k":"obs","h":285,"g":62},{"p":"ESTONIA 2008","k":"obs","h":300,"g":68},{"p":"ESTONIA 2008","k":"obs","h":320,"g":67},
{"p":"BELARUS 2008","k":"obs","h":41,"g":14.7},{"p":"BELARUS 2008","k":"obs","h":59.5,"g":4.6},{"p":"BELARUS 2008","k":"obs","h":64.7,"g":25.5},{"p":"BELARUS 2008","k":"obs","h":67.4,"g":10.8},{"p":"BELARUS 2008","k":"obs","h":72.6,"g":13.9},{"p":"BELARUS 2008","k":"obs","h":78,"g":15.5},{"p":"BELARUS 2008","k":"obs","h":88.4,"g":32.5},{"p":"BELARUS 2008","k":"obs","h":91,"g":27.8},{"p":"BELARUS 2008","k":"obs","h":88.4,"g":23.2},{"p":"BELARUS 2008","k":"obs","h":96.3,"g":21.6},{"p":"BELARUS 2008","k":"obs","h":98.9,"g":18.5},{"p":"BELARUS 2008","k":"obs","h":101.6,"g":24.7},{"p":"BELARUS 2008","k":"obs","h":107,"g":35.5},{"p":"BELARUS 2008","k":"obs","h":107,"g":17.8},{"p":"BELARUS 2008","k":"obs","h":109.5,"g":30.9},{"p":"BELARUS 2008","k":"obs","h":114.7,"g":21.6},{"p":"BELARUS 2008","k":"obs","h":117.4,"g":26.3},{"p":"BELARUS 2008","k":"obs","h":122.6,"g":44.8},{"p":"BELARUS 2008","k":"obs","h":120,"g":38.6},{"p":"BELARUS 2008","k":"obs","h":125.3,"g":39.4},{"p":"BELARUS 2008","k":"obs","h":130.5,"g":24.7},{"p":"BELARUS 2008","k":"obs","h":133,"g":18.5},{"p":"BELARUS 2008","k":"obs","h":133,"g":36.3},{"p":"BELARUS 2008","k":"obs","h":135.8,"g":41.7},{"p":"BELARUS 2008","k":"obs","h":138.4,"g":32.5},{"p":"BELARUS 2008","k":"obs","h":149,"g":49.5},{"p":"BELARUS 2008","k":"obs","h":154.2,"g":41},{"p":"BELARUS 2008","k":"obs","h":146.3,"g":31.7},{"p":"BELARUS 2008","k":"obs","h":159.5,"g":61},{"p":"BELARUS 2008","k":"obs","h":159.5,"g":25.5},{"p":"BELARUS 2008","k":"obs","h":164.7,"g":35.5},{"p":"BELARUS 2008","k":"obs","h":167.4,"g":52.5},{"p":"BELARUS 2008","k":"obs","h":169,"g":25.5},{"p":"BELARUS 2008","k":"obs","h":167.4,"g":34.8},{"p":"BELARUS 2008","k":"obs","h":170,"g":49.5},{"p":"BELARUS 2008","k":"obs","h":175.3,"g":41.7},{"p":"BELARUS 2008","k":"obs","h":178,"g":58.7},{"p":"BELARUS 2008","k":"obs","h":183,"g":47.9},{"p":"BELARUS 2008","k":"obs","h":186,"g":25.5},{"p":"BELARUS 2008","k":"obs","h":188.4,"g":28.6},{"p":"BELARUS 2008","k":"obs","h":191,"g":34.8},{"p":"BELARUS 2008","k":"obs","h":193.7,"g":49.5},{"p":"BELARUS 2008","k":"obs","h":193.7,"g":32.5},{"p":"BELARUS 2008","k":"obs","h":196.3,"g":43.3},{"p":"BELARUS 2008","k":"obs","h":199,"g":59.5},{"p":"BELARUS 2008","k":"obs","h":201.6,"g":55.6},{"p":"BELARUS 2008","k":"obs","h":204.5,"g":30.9},{"p":"BELARUS 2008","k":"obs","h":206.8,"g":38.6},{"p":"BELARUS 2008","k":"obs","h":209.5,"g":59.5},{"p":"BELARUS 2008","k":"obs","h":206.8,"g":41.7},{"p":"BELARUS 2008","k":"obs","h":214.7,"g":54},{"p":"BELARUS 2008","k":"obs","h":217.4,"g":58.7},{"p":"BELARUS 2008","k":"obs","h":222.6,"g":52.5},{"p":"BELARUS 2008","k":"obs","h":222.6,"g":47.9},{"p":"BELARUS 2008","k":"obs","h":225,"g":68},{"p":"BELARUS 2008","k":"obs","h":227.9,"g":61.8},{"p":"BELARUS 2008","k":"obs","h":230.5,"g":71.9},{"p":"BELARUS 2008","k":"obs","h":233,"g":31.7},{"p":"BELARUS 2008","k":"obs","h":235.8,"g":20.9},{"p":"BELARUS 2008","k":"obs","h":238.4,"g":58.7},{"p":"BELARUS 2008","k":"obs","h":241,"g":65.7},{"p":"BELARUS 2008","k":"obs","h":243.7,"g":41.7},{"p":"BELARUS 2008","k":"obs","h":246.3,"g":33.2},{"p":"BELARUS 2008","k":"obs","h":247.4,"g":15.5},{"p":"BELARUS 2008","k":"obs","h":249,"g":78},{"p":"BELARUS 2008","k":"obs","h":249,"g":72.6},{"p":"BELARUS 2008","k":"obs","h":251.6,"g":52.5},{"p":"BELARUS 2008","k":"obs","h":254,"g":58.7},{"p":"BELARUS 2008","k":"obs","h":256.8,"g":64.9},{"p":"BELARUS 2008","k":"obs","h":259.5,"g":88.9},{"p":"BELARUS 2008","k":"obs","h":262,"g":92},{"p":"BELARUS 2008","k":"obs","h":264.7,"g":76.5},{"p":"BELARUS 2008","k":"obs","h":267.4,"g":92},{"p":"BELARUS 2008","k":"obs","h":267.4,"g":69.6},{"p":"BELARUS 2008","k":"obs","h":267.4,"g":51},{"p":"BELARUS 2008","k":"obs","h":270,"g":44},{"p":"BELARUS 2008","k":"obs","h":272.6,"g":43.3},{"p":"BELARUS 2008","k":"obs","h":275.3,"g":61.8},{"p":"BELARUS 2008","k":"obs","h":278,"g":64.9},{"p":"BELARUS 2008","k":"obs","h":280.5,"g":85.8},{"p":"BELARUS 2008","k":"obs","h":280.5,"g":81.9},{"p":"BELARUS 2008","k":"obs","h":281.6,"g":38.6},{"p":"BELARUS 2008","k":"obs","h":285.8,"g":52.5},{"p":"BELARUS 2008","k":"obs","h":285.8,"g":71},{"p":"BELARUS 2008","k":"obs","h":288.4,"g":80.4},{"p":"BELARUS 2008","k":"obs","h":291,"g":77.3},{"p":"BELARUS 2008","k":"obs","h":293.7,"g":58},{"p":"BELARUS 2008","k":"obs","h":296.3,"g":68},{"p":"BELARUS 2008","k":"obs","h":299,"g":74.2},{"p":"BELARUS 2008","k":"obs","h":301.6,"g":86.6},{"p":"BELARUS 2008","k":"obs","h":304,"g":59.5},{"p":"BELARUS 2008","k":"obs","h":306.8,"g":80.4},{"p":"BELARUS 2008","k":"obs","h":309.5,"g":72.6},{"p":"BELARUS 2008","k":"obs","h":312,"g":64.9},{"p":"BELARUS 2008","k":"obs","h":315,"g":58.7},{"p":"BELARUS 2008","k":"obs","h":317.4,"g":65.7},{"p":"BELARUS 2008","k":"obs","h":322.6,"g":52.5},{"p":"BELARUS 2008","k":"obs","h":328,"g":78.8},{"p":"BELARUS 2008","k":"obs","h":333,"g":81.1},{"p":"BELARUS 2008","k":"obs","h":343.7,"g":93.5},{"p":"BELARUS 2008","k":"obs","h":346.3,"g":88},{"p":"BELARUS 2008","k":"obs","h":349,"g":68.8},{"p":"BELARUS 2008","k":"obs","h":362,"g":86.6},{"p":"BELARUS 2008","k":"obs","h":370,"g":41},{"p":"BELARUS 2008","k":"obs","h":370,"g":73.4},{"p":"BELARUS 2008","k":"obs","h":388.4,"g":66.5},{"p":"BELARUS 2008","k":"obs","h":396.3,"g":91.2},{"p":"BELARUS 2008","k":"obs","h":409.5,"g":68},{"p":"BELARUS 2008","k":"obs","h":412,"g":92.7},{"p":"BELARUS 2008","k":"obs","h":433,"g":105.9},{"p":"BELARUS 2008","k":"obs","h":470,"g":85.8},{"p":"BELARUS 2008","k":"obs","h":409.5,"g":78.8},{"p":"BELARUS 2008","k":"obs","h":383.7,"g":74.2},{"p":"BELARUS 2008","k":"obs","h":291,"g":63.4},{"p":"BELARUS 2008","k":"obs","h":270,"g":68},{"p":"BELARUS 2008","k":"obs","h":259.5,"g":60.3},{"p":"BELARUS 2008","k":"obs","h":241,"g":55.6},{"p":"BELARUS 2008","k":"obs","h":235.8,"g":49.5},{"p":"BELARUS 2008","k":"obs","h":227.9,"g":54},{"p":"BELARUS 2008","k":"obs","h":217.4,"g":49.5},{"p":"BELARUS 2008","k":"obs","h":206.8,"g":49.5},{"p":"BELARUS 2008","k":"obs","h":186,"g":46.4},{"p":"BELARUS 2008","k":"obs","h":178,"g":43.3},{"p":"BELARUS 2008","k":"obs","h":164.7,"g":41.7},{"p":"BELARUS 2008","k":"obs","h":154.2,"g":37},{"p":"BELARUS 2008","k":"obs","h":143.7,"g":37},{"p":"BELARUS 2008","k":"obs","h":125.3,"g":34},{"p":"BELARUS 2008","k":"obs","h":117.4,"g":32.5},{"p":"BELARUS 2008","k":"obs","h":112,"g":27.8},{"p":"BELARUS 2008","k":"obs","h":101.6,"g":27.8},{"p":"BELARUS 2008","k":"obs","h":93.7,"g":24.7},{"p":"BELARUS 2008","k":"obs","h":83,"g":20},{"p":"BELARUS 2008","k":"obs","h":283,"g":66.5},{"p":"BELARUS 2008","k":"obs","h":299,"g":61.8},{"p":"BELARUS 2008","k":"obs","h":306.8,"g":68},{"p":"BELARUS 2008","k":"obs","h":270,"g":58.7},{"p":"BELARUS 2008","k":"obs","h":259.5,"g":74.2},{"p":"BELARUS 2008","k":"obs","h":254,"g":52.5},{"p":"BELARUS 2008","k":"obs","h":249,"g":55.6},{"p":"BELARUS 2008","k":"obs","h":212,"g":64.9},{"p":"BELARUS 2008","k":"obs","h":196.3,"g":61.8},{"p":"BELARUS 2008","k":"obs","h":220,"g":64.9},{"p":"BELARUS 2008","k":"obs","h":322.6,"g":71},{"p":"BELARUS 2008","k":"obs","h":338.4,"g":74.2},
{"p":"BELARUS 2008","k":"obs","h":95,"g":19},{"p":"BELARUS 2008","k":"obs","h":105,"g":26},{"p":"BELARUS 2008","k":"obs","h":115,"g":30},{"p":"BELARUS 2008","k":"obs","h":125,"g":31},{"p":"BELARUS 2008","k":"obs","h":140,"g":38},{"p":"BELARUS 2008","k":"obs","h":150,"g":42},{"p":"BELARUS 2008","k":"obs","h":160,"g":40},{"p":"BELARUS 2008","k":"obs","h":172,"g":45},{"p":"BELARUS 2008","k":"obs","h":185,"g":50},{"p":"BELARUS 2008","k":"obs","h":195,"g":53},{"p":"BELARUS 2008","k":"obs","h":205,"g":56},{"p":"BELARUS 2008","k":"obs","h":215,"g":60},{"p":"BELARUS 2008","k":"obs","h":225,"g":57},{"p":"BELARUS 2008","k":"obs","h":232,"g":62},{"p":"BELARUS 2008","k":"obs","h":240,"g":60},{"p":"BELARUS 2008","k":"obs","h":248,"g":65},{"p":"BELARUS 2008","k":"obs","h":255,"g":70},{"p":"BELARUS 2008","k":"obs","h":262,"g":67},{"p":"BELARUS 2008","k":"obs","h":270,"g":72},{"p":"BELARUS 2008","k":"obs","h":278,"g":70},{"p":"BELARUS 2008","k":"obs","h":286,"g":75},{"p":"BELARUS 2008","k":"obs","h":295,"g":78},{"p":"BELARUS 2008","k":"obs","h":305,"g":74},{"p":"BELARUS 2008","k":"obs","h":315,"g":70},{"p":"BELARUS 2008","k":"obs","h":325,"g":66},{"p":"BELARUS 2008","k":"obs","h":335,"g":76},{"p":"BELARUS 2008","k":"obs","h":245,"g":50},{"p":"BELARUS 2008","k":"obs","h":230,"g":54},{"p":"BELARUS 2008","k":"obs","h":210,"g":52},{"p":"BELARUS 2008","k":"obs","h":190,"g":47},{"p":"BELARUS 2008","k":"obs","h":175,"g":38},{"p":"BELARUS 2008","k":"obs","h":155,"g":31},{"p":"BELARUS 2008","k":"obs","h":135,"g":28},{"p":"BELARUS 2008","k":"obs","h":263,"g":80},{"p":"BELARUS 2008","k":"obs","h":275,"g":76},{"p":"BELARUS 2008","k":"obs","h":300,"g":82},
{"p":"ESTONIA 2007","k":"fit","h":25,"g":5},{"p":"ESTONIA 2007","k":"fit","h":50,"g":11},{"p":"ESTONIA 2007","k":"fit","h":100,"g":24},{"p":"ESTONIA 2007","k":"fit","h":150,"g":37},{"p":"ESTONIA 2007","k":"fit","h":200,"g":50},{"p":"ESTONIA 2007","k":"fit","h":250,"g":61.5},{"p":"ESTONIA 2007","k":"fit","h":300,"g":71},{"p":"ESTONIA 2007","k":"fit","h":350,"g":78.5},{"p":"ESTONIA 2007","k":"fit","h":400,"g":84},{"p":"ESTONIA 2007","k":"fit","h":450,"g":89},{"p":"ESTONIA 2007","k":"fit","h":472,"g":91.5},
{"p":"ESTONIA 2007","k":"hi","h":25,"g":10},{"p":"ESTONIA 2007","k":"hi","h":50,"g":14.5},{"p":"ESTONIA 2007","k":"hi","h":100,"g":26},{"p":"ESTONIA 2007","k":"hi","h":150,"g":38.5},{"p":"ESTONIA 2007","k":"hi","h":200,"g":52},{"p":"ESTONIA 2007","k":"hi","h":250,"g":64},{"p":"ESTONIA 2007","k":"hi","h":300,"g":74},{"p":"ESTONIA 2007","k":"hi","h":350,"g":82},{"p":"ESTONIA 2007","k":"hi","h":400,"g":89},{"p":"ESTONIA 2007","k":"hi","h":450,"g":97.5},{"p":"ESTONIA 2007","k":"hi","h":472,"g":101.5},
{"p":"ESTONIA 2007","k":"lo","h":25,"g":-1},{"p":"ESTONIA 2007","k":"lo","h":50,"g":7},{"p":"ESTONIA 2007","k":"lo","h":100,"g":21.5},{"p":"ESTONIA 2007","k":"lo","h":150,"g":35.5},{"p":"ESTONIA 2007","k":"lo","h":200,"g":48},{"p":"ESTONIA 2007","k":"lo","h":250,"g":59},{"p":"ESTONIA 2007","k":"lo","h":300,"g":67.5},{"p":"ESTONIA 2007","k":"lo","h":350,"g":74},{"p":"ESTONIA 2007","k":"lo","h":400,"g":78.5},{"p":"ESTONIA 2007","k":"lo","h":450,"g":80.5},{"p":"ESTONIA 2007","k":"lo","h":472,"g":81},
{"p":"BELARUS 2007","k":"fit","h":25,"g":7.5},{"p":"BELARUS 2007","k":"fit","h":50,"g":12.5},{"p":"BELARUS 2007","k":"fit","h":100,"g":28},{"p":"BELARUS 2007","k":"fit","h":150,"g":40},{"p":"BELARUS 2007","k":"fit","h":200,"g":52},{"p":"BELARUS 2007","k":"fit","h":250,"g":64},{"p":"BELARUS 2007","k":"fit","h":300,"g":75},{"p":"BELARUS 2007","k":"fit","h":350,"g":82},{"p":"BELARUS 2007","k":"fit","h":400,"g":87},{"p":"BELARUS 2007","k":"fit","h":450,"g":92},{"p":"BELARUS 2007","k":"fit","h":472,"g":95},
{"p":"BELARUS 2007","k":"hi","h":25,"g":13.5},{"p":"BELARUS 2007","k":"hi","h":50,"g":17},{"p":"BELARUS 2007","k":"hi","h":100,"g":30},{"p":"BELARUS 2007","k":"hi","h":150,"g":42},{"p":"BELARUS 2007","k":"hi","h":200,"g":53.5},{"p":"BELARUS 2007","k":"hi","h":250,"g":65.5},{"p":"BELARUS 2007","k":"hi","h":300,"g":77},{"p":"BELARUS 2007","k":"hi","h":350,"g":85},{"p":"BELARUS 2007","k":"hi","h":400,"g":92},{"p":"BELARUS 2007","k":"hi","h":450,"g":100},{"p":"BELARUS 2007","k":"hi","h":465,"g":104},
{"p":"BELARUS 2007","k":"lo","h":25,"g":2.5},{"p":"BELARUS 2007","k":"lo","h":50,"g":8.5},{"p":"BELARUS 2007","k":"lo","h":100,"g":26},{"p":"BELARUS 2007","k":"lo","h":150,"g":38.5},{"p":"BELARUS 2007","k":"lo","h":200,"g":50.5},{"p":"BELARUS 2007","k":"lo","h":250,"g":62.5},{"p":"BELARUS 2007","k":"lo","h":300,"g":72.5},{"p":"BELARUS 2007","k":"lo","h":350,"g":78.5},{"p":"BELARUS 2007","k":"lo","h":400,"g":81.5},{"p":"BELARUS 2007","k":"lo","h":450,"g":84},{"p":"BELARUS 2007","k":"lo","h":465,"g":84.5},
{"p":"ESTONIA 2008","k":"fit","h":25,"g":0},{"p":"ESTONIA 2008","k":"fit","h":50,"g":7},{"p":"ESTONIA 2008","k":"fit","h":100,"g":20},{"p":"ESTONIA 2008","k":"fit","h":150,"g":33},{"p":"ESTONIA 2008","k":"fit","h":200,"g":45},{"p":"ESTONIA 2008","k":"fit","h":250,"g":56.5},{"p":"ESTONIA 2008","k":"fit","h":300,"g":66.5},{"p":"ESTONIA 2008","k":"fit","h":350,"g":74},{"p":"ESTONIA 2008","k":"fit","h":400,"g":79.5},{"p":"ESTONIA 2008","k":"fit","h":450,"g":84.5},{"p":"ESTONIA 2008","k":"fit","h":472,"g":86.8},
{"p":"ESTONIA 2008","k":"hi","h":25,"g":6},{"p":"ESTONIA 2008","k":"hi","h":50,"g":11.5},{"p":"ESTONIA 2008","k":"hi","h":100,"g":23},{"p":"ESTONIA 2008","k":"hi","h":150,"g":35},{"p":"ESTONIA 2008","k":"hi","h":200,"g":47},{"p":"ESTONIA 2008","k":"hi","h":250,"g":58.5},{"p":"ESTONIA 2008","k":"hi","h":300,"g":69.5},{"p":"ESTONIA 2008","k":"hi","h":350,"g":78},{"p":"ESTONIA 2008","k":"hi","h":400,"g":84.5},{"p":"ESTONIA 2008","k":"hi","h":450,"g":93},{"p":"ESTONIA 2008","k":"hi","h":472,"g":97.5},
{"p":"ESTONIA 2008","k":"lo","h":28,"g":-6},{"p":"ESTONIA 2008","k":"lo","h":50,"g":2.5},{"p":"ESTONIA 2008","k":"lo","h":100,"g":17.5},{"p":"ESTONIA 2008","k":"lo","h":150,"g":31},{"p":"ESTONIA 2008","k":"lo","h":200,"g":43.5},{"p":"ESTONIA 2008","k":"lo","h":250,"g":54.5},{"p":"ESTONIA 2008","k":"lo","h":300,"g":63.5},{"p":"ESTONIA 2008","k":"lo","h":350,"g":70},{"p":"ESTONIA 2008","k":"lo","h":400,"g":74},{"p":"ESTONIA 2008","k":"lo","h":450,"g":76},{"p":"ESTONIA 2008","k":"lo","h":472,"g":76.5},
{"p":"BELARUS 2008","k":"fit","h":25,"g":3},{"p":"BELARUS 2008","k":"fit","h":50,"g":9},{"p":"BELARUS 2008","k":"fit","h":100,"g":22},{"p":"BELARUS 2008","k":"fit","h":150,"g":36},{"p":"BELARUS 2008","k":"fit","h":200,"g":49},{"p":"BELARUS 2008","k":"fit","h":250,"g":61},{"p":"BELARUS 2008","k":"fit","h":300,"g":70.5},{"p":"BELARUS 2008","k":"fit","h":350,"g":77},{"p":"BELARUS 2008","k":"fit","h":400,"g":82},{"p":"BELARUS 2008","k":"fit","h":450,"g":87},{"p":"BELARUS 2008","k":"fit","h":472,"g":89.8},
{"p":"BELARUS 2008","k":"hi","h":25,"g":8.5},{"p":"BELARUS 2008","k":"hi","h":50,"g":13.5},{"p":"BELARUS 2008","k":"hi","h":100,"g":24.5},{"p":"BELARUS 2008","k":"hi","h":150,"g":38},{"p":"BELARUS 2008","k":"hi","h":200,"g":51},{"p":"BELARUS 2008","k":"hi","h":250,"g":63},{"p":"BELARUS 2008","k":"hi","h":300,"g":72.5},{"p":"BELARUS 2008","k":"hi","h":350,"g":80},{"p":"BELARUS 2008","k":"hi","h":400,"g":86.5},{"p":"BELARUS 2008","k":"hi","h":450,"g":95},{"p":"BELARUS 2008","k":"hi","h":468,"g":100},
{"p":"BELARUS 2008","k":"lo","h":25,"g":-2.5},{"p":"BELARUS 2008","k":"lo","h":50,"g":4.5},{"p":"BELARUS 2008","k":"lo","h":100,"g":19.5},{"p":"BELARUS 2008","k":"lo","h":150,"g":34},{"p":"BELARUS 2008","k":"lo","h":200,"g":47},{"p":"BELARUS 2008","k":"lo","h":250,"g":59},{"p":"BELARUS 2008","k":"lo","h":300,"g":68.5},{"p":"BELARUS 2008","k":"lo","h":350,"g":74.5},{"p":"BELARUS 2008","k":"lo","h":400,"g":78},{"p":"BELARUS 2008","k":"lo","h":450,"g":79.5},{"p":"BELARUS 2008","k":"lo","h":468,"g":80}
 ]},
 "facet": {"field": "p", "type": "nominal", "sort": ["ESTONIA 2007", "BELARUS 2007", "ESTONIA 2008", "BELARUS 2008"],
   "header": {"title": null, "labelFontSize": 20, "labelFontWeight": "bold", "labelColor": "#111111", "labelPadding": 25, "labelFont": "Liberation Sans"}},
 "columns": 2,
 "spacing": {"row": 35, "column": 20},
 "resolve": {"axis": {"x": "independent", "y": "independent"}},
 "spec": {
  "width": 344,
  "height": 284,
  "encoding": {
   "x": {"field": "h", "type": "quantitative", "scale": {"domain": [-21, 521], "nice": false, "zero": false},
     "axis": {"values": [0, 100, 200, 300, 400, 500], "title": null, "grid": true, "gridDash": [3, 3], "gridColor": "#aaaaaa", "gridWidth": 1, "domain": false, "tickSize": 7, "tickColor": "#111111", "tickWidth": 1.3, "labelFontSize": 17, "labelColor": "#222222", "labelPadding": 13, "labelFont": "Liberation Sans"}},
   "y": {"field": "g", "type": "quantitative", "scale": {"domain": [-5.5, 126.4], "nice": false, "zero": false},
     "axis": {"values": [0, 20, 40, 60, 80, 100, 120], "labelExpr": "datum.value == 120 ? '' : datum.label", "title": null, "grid": true, "gridDash": [3, 3], "gridColor": "#aaaaaa", "gridWidth": 1, "domain": false, "tickSize": 7, "tickColor": "#111111", "tickWidth": 1.3, "labelFontSize": 17, "labelColor": "#222222", "labelPadding": 12, "labelAngle": -90, "labelFont": "Liberation Sans"}}
  },
  "layer": [
   {"transform": [{"filter": "datum.k == 'obs'"}],
    "mark": {"type": "point", "shape": "circle", "filled": false, "size": 34, "strokeWidth": 1.1, "color": "#5e5e5e", "opacity": 1}},
   {"transform": [{"filter": "datum.k != 'obs'"}],
    "mark": {"type": "line", "color": "#111111", "clip": true, "interpolate": "monotone"},
    "encoding": {
      "detail": {"field": "k", "type": "nominal"},
      "strokeDash": {"field": "k", "type": "nominal", "scale": {"domain": ["fit", "lo", "hi"], "range": [[1, 0], [6, 4], [6, 4]]}, "legend": null},
      "strokeWidth": {"field": "k", "type": "nominal", "scale": {"domain": ["fit", "lo", "hi"], "range": [1.8, 1.5, 1.5]}, "legend": null}
    }},
   {"transform": [{"filter": "datum.k == 'fit' && datum.h == 25"}],
    "mark": {"type": "text", "text": "Height growth (cm)", "fontStyle": "italic", "fontSize": 17, "align": "left", "baseline": "middle", "color": "#222222", "font": "Liberation Sans"},
    "encoding": {"x": {"datum": 17, "type": "quantitative"}, "y": {"datum": 116.3, "type": "quantitative"}}},
   {"transform": [{"filter": "datum.k == 'fit' && datum.h == 25"}],
    "mark": {"type": "text", "text": "Height (cm)", "fontStyle": "italic", "fontSize": 17, "align": "right", "baseline": "middle", "color": "#222222", "font": "Liberation Sans"},
    "encoding": {"x": {"datum": 502, "type": "quantitative"}, "y": {"datum": 5.1, "type": "quantitative"}}}
  ]
 }
}
